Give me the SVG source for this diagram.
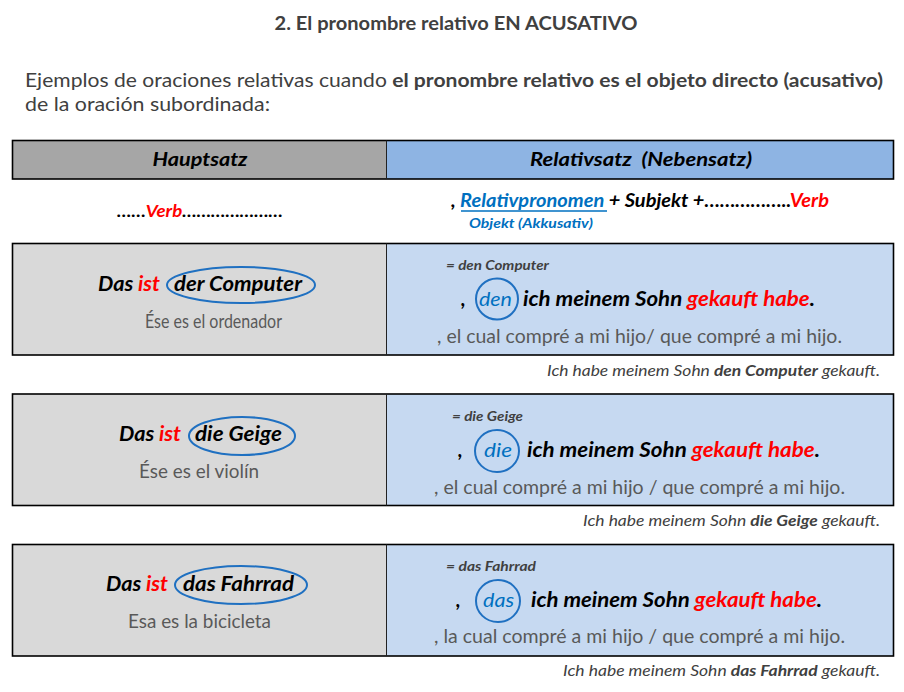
<svg xmlns="http://www.w3.org/2000/svg" width="904" height="692" viewBox="0 0 904 692">
<style>
text{font-family:Lato,"Open Sans","Liberation Sans",sans-serif}
.ti{font-size:18px;font-weight:bold;fill:#404040}
.in{font-size:19px;fill:#404040}
.hd{font-size:19px;font-weight:bold;font-style:italic;fill:#000}
.bi{font-weight:bold;font-style:italic;fill:#000}
.red{fill:#FF0000}
.blue{fill:#0070C0}
.sp{font-size:19px;fill:#595959}
.eq{font-size:13px;font-weight:bold;font-style:italic;fill:#404040}
.tr{font-size:15px;font-style:italic;fill:#404040}
.ring{fill:none;stroke:#1F70C1;stroke-width:2}
.lc{fill:#D9D9D9}
.rc{fill:#C6D9F1}
.frame{fill:none;stroke:#000;stroke-width:1.6}
.div{stroke:#222;stroke-width:1}
</style>
<g id="title">
<text class="ti" x="456" y="30" text-anchor="middle" textLength="363" lengthAdjust="spacingAndGlyphs">2. El pronombre relativo EN ACUSATIVO</text>
</g>
<g id="intro">
<text class="in" x="25" y="87" textLength="858" lengthAdjust="spacingAndGlyphs">Ejemplos de oraciones relativas cuando <tspan font-weight="bold">el pronombre relativo es el objeto directo (acusativo)</tspan></text>
<text class="in" x="25" y="111" textLength="245" lengthAdjust="spacingAndGlyphs">de la oración subordinada:</text>
</g>
<g id="header">
<rect x="12.5" y="140.5" width="374" height="38.5" fill="#A6A6A6"/>
<rect x="386.5" y="140.5" width="507" height="38.5" fill="#8EB4E3"/>
<rect class="frame" x="12.5" y="140.5" width="881" height="38.5"/>
<line class="div" x1="386.5" y1="140.5" x2="386.5" y2="179"/>
<text class="hd" x="200" y="166" text-anchor="middle" textLength="95" lengthAdjust="spacingAndGlyphs">Hauptsatz</text>
<text class="hd" x="641" y="166" text-anchor="middle" textLength="222" lengthAdjust="spacingAndGlyphs" xml:space="preserve">Relativsatz  (Nebensatz)</text>
</g>
<g id="pattern">
<text class="bi" x="117" y="217" font-size="17" textLength="166" lengthAdjust="spacingAndGlyphs">……<tspan class="red">Verb</tspan>…………………</text>
<text class="bi" x="451" y="207" font-size="18" textLength="378" lengthAdjust="spacingAndGlyphs">, <tspan class="blue">Relativpronomen</tspan> + Subjekt +……………..<tspan class="red">Verb</tspan></text>
<line x1="461" y1="211" x2="607" y2="211" stroke="#0070C0" stroke-width="1.3"/>
<text class="bi blue" x="469" y="228" font-size="13.5" textLength="124" lengthAdjust="spacingAndGlyphs">Objekt (Akkusativ)</text>
</g>
<g id="row1">
<rect class="lc" x="12.5" y="243.5" width="374" height="111.5"/>
<rect class="rc" x="386.5" y="243.5" width="507" height="111.5"/>
<rect class="frame" x="12.5" y="243.5" width="881" height="111.5"/>
<line class="div" x1="386.5" y1="243.5" x2="386.5" y2="355"/>
<text class="bi" x="98" y="291" font-size="20" textLength="62" lengthAdjust="spacingAndGlyphs">Das <tspan class="red">ist</tspan></text>
<text class="bi" x="174" y="291" font-size="20" textLength="128" lengthAdjust="spacingAndGlyphs">der Computer</text>
<ellipse class="ring" cx="241" cy="285" rx="74" ry="18"/>
<text class="sp" x="145" y="328" textLength="137" lengthAdjust="spacingAndGlyphs">Ése es el ordenador</text>
<text class="eq" x="446" y="270" textLength="103" lengthAdjust="spacingAndGlyphs">= den Computer</text>
<text class="bi" x="461" y="306" font-size="20">,</text>
<text class="blue" x="479" y="306" font-size="20" font-style="italic" textLength="33" lengthAdjust="spacingAndGlyphs">den</text>
<ellipse class="ring" cx="497" cy="299" rx="21" ry="20.5"/>
<text class="bi" x="523" y="306" font-size="20" textLength="292" lengthAdjust="spacingAndGlyphs">ich meinem Sohn <tspan class="red">gekauft habe</tspan>.</text>
<text class="sp" x="437" y="343" font-size="18" textLength="405" lengthAdjust="spacingAndGlyphs">, el cual compré a mi hijo/ que compré a mi hijo.</text>
<text class="tr" x="880" y="376" text-anchor="end" textLength="333" lengthAdjust="spacingAndGlyphs">Ich habe meinem Sohn <tspan font-weight="bold">den Computer</tspan> gekauft.</text>
</g>
<g id="row2">
<rect class="lc" x="12.5" y="394" width="374" height="111.5"/>
<rect class="rc" x="386.5" y="394" width="507" height="111.5"/>
<rect class="frame" x="12.5" y="394" width="881" height="111.5"/>
<line class="div" x1="386.5" y1="394" x2="386.5" y2="505.5"/>
<text class="bi" x="119" y="441" font-size="20" textLength="62" lengthAdjust="spacingAndGlyphs">Das <tspan class="red">ist</tspan></text>
<text class="bi" x="195" y="441" font-size="20" textLength="87" lengthAdjust="spacingAndGlyphs">die Geige</text>
<ellipse class="ring" cx="242" cy="436" rx="53" ry="19"/>
<text class="sp" x="139" y="478" textLength="120" lengthAdjust="spacingAndGlyphs">Ése es el violín</text>
<text class="eq" x="452" y="421" textLength="71" lengthAdjust="spacingAndGlyphs">= die Geige</text>
<text class="bi" x="458" y="457" font-size="20">,</text>
<text class="blue" x="484" y="457" font-size="20" font-style="italic" textLength="28" lengthAdjust="spacingAndGlyphs">die</text>
<ellipse class="ring" cx="497" cy="451" rx="22" ry="21"/>
<text class="bi" x="527" y="457" font-size="20" textLength="293" lengthAdjust="spacingAndGlyphs">ich meinem Sohn <tspan class="red">gekauft habe</tspan>.</text>
<text class="sp" x="434" y="494" font-size="18" textLength="411" lengthAdjust="spacingAndGlyphs">, el cual compré a mi hijo / que compré a mi hijo.</text>
<text class="tr" x="880" y="526" text-anchor="end" textLength="297" lengthAdjust="spacingAndGlyphs">Ich habe meinem Sohn <tspan font-weight="bold">die Geige</tspan> gekauft.</text>
</g>
<g id="row3">
<rect class="lc" x="12.5" y="544.5" width="374" height="111.5"/>
<rect class="rc" x="386.5" y="544.5" width="507" height="111.5"/>
<rect class="frame" x="12.5" y="544.5" width="881" height="111.5"/>
<line class="div" x1="386.5" y1="544.5" x2="386.5" y2="656"/>
<text class="bi" x="106" y="591" font-size="20" textLength="62" lengthAdjust="spacingAndGlyphs">Das <tspan class="red">ist</tspan></text>
<text class="bi" x="183" y="591" font-size="20" textLength="111" lengthAdjust="spacingAndGlyphs">das Fahrrad</text>
<ellipse class="ring" cx="241" cy="585" rx="66" ry="19"/>
<text class="sp" x="128" y="628" textLength="143" lengthAdjust="spacingAndGlyphs">Esa es la bicicleta</text>
<text class="eq" x="446" y="571" textLength="90" lengthAdjust="spacingAndGlyphs">= das Fahrrad</text>
<text class="bi" x="456" y="607" font-size="20">,</text>
<text class="blue" x="483" y="607" font-size="20" font-style="italic" textLength="31" lengthAdjust="spacingAndGlyphs">das</text>
<ellipse class="ring" cx="498" cy="601" rx="22" ry="21"/>
<text class="bi" x="531" y="607" font-size="20" textLength="291" lengthAdjust="spacingAndGlyphs">ich meinem Sohn <tspan class="red">gekauft habe</tspan>.</text>
<text class="sp" x="434" y="643" font-size="18" textLength="411" lengthAdjust="spacingAndGlyphs">, la cual compré a mi hijo / que compré a mi hijo.</text>
<text class="tr" x="880" y="676" text-anchor="end" textLength="317" lengthAdjust="spacingAndGlyphs">Ich habe meinem Sohn <tspan font-weight="bold">das Fahrrad</tspan> gekauft.</text>
</g>
</svg>
